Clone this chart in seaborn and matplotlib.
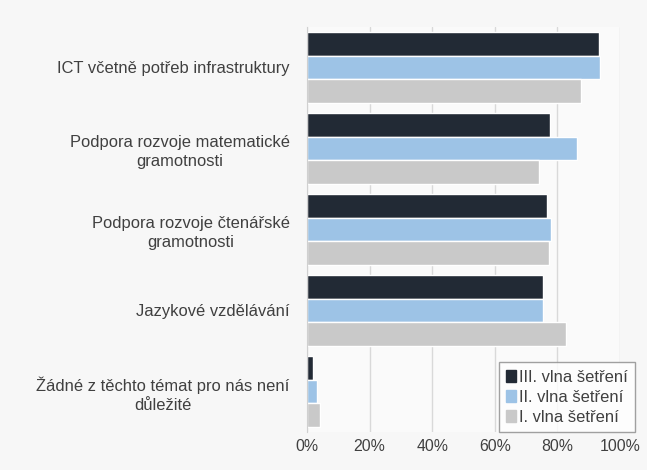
import matplotlib
matplotlib.use("Agg")
import matplotlib.pyplot as plt
import seaborn as sns
import pandas as pd
from matplotlib.ticker import PercentFormatter

# categories and values (share of schools, %)
categories = [
    "ICT včetně potřeb infrastruktury",
    "Podpora rozvoje matematické\ngramotnosti",
    "Podpora rozvoje čtenářské\ngramotnosti",
    "Jazykové vzdělávání",
    "Žádné z těchto témat pro nás není\ndůležité",
]
waves = ["III. vlna šetření", "II. vlna šetření", "I. vlna šetření"]
wave3 = [93.3, 77.6, 76.8, 75.4, 1.9]
wave2 = [93.7, 86.2, 77.8, 75.4, 3.2]
wave1 = [87.4, 74.0, 77.2, 82.6, 4.2]
colors = ["#222a35", "#9dc3e6", "#c9c9c9"]

df = pd.DataFrame({
    "kategorie": categories * 3,
    "vlna": [waves[0]] * 5 + [waves[1]] * 5 + [waves[2]] * 5,
    "hodnota": wave3 + wave2 + wave1,
})

sns.set_style("white")
plt.rcParams["font.family"] = ["Liberation Sans", "DejaVu Sans"]

fig = plt.figure(figsize=(6.47, 4.70), dpi=100, facecolor="#f7f7f7")
ax = fig.add_axes([0.4745, 0.0809, 0.4838, 0.8617])
ax.set_facecolor("#fafafa")

sns.barplot(data=df, y="kategorie", x="hodnota", hue="vlna", order=categories,
            hue_order=waves, palette=colors, orient="h", width=0.87,
            saturation=1, ax=ax, legend=False)

ax.set_xlim(0, 100)
ax.set_xticks([0, 20, 40, 60, 80, 100])
ax.xaxis.set_major_formatter(PercentFormatter(decimals=0))
ax.grid(axis="x", color="#d9d9d9", linewidth=1)
ax.set_axisbelow(True)
for s in ["top", "right", "bottom"]:
    ax.spines[s].set_visible(False)
ax.spines["left"].set_color("#d0d0d0")
ax.set_xlabel("")
ax.set_ylabel("")
ax.tick_params(axis="both", length=0, colors="#404040")
ax.tick_params(axis="y", pad=12.5, labelsize=11.9)
ax.tick_params(axis="x", pad=5, labelsize=11.4)
for lbl in ax.get_yticklabels():
    lbl.set_multialignment("center")
    lbl.set_linespacing(1.35)

handles = [plt.Rectangle((0, 0), 1, 1, color=c) for c in colors]
leg = fig.legend(handles, waves, loc="lower left", bbox_to_anchor=(499 / 647, 1 - 432 / 470),
                 frameon=True, fancybox=False, fontsize=11.9, handlelength=0.55,
                 handleheight=0.75, handletextpad=0.2, labelspacing=0.3,
                 borderpad=0.45, borderaxespad=0)
leg.get_frame().set_edgecolor("#8a8a8a")
leg.get_frame().set_facecolor("white")
for t in leg.get_texts():
    t.set_color("#404040")

fig.savefig("out.png", dpi=100, facecolor=fig.get_facecolor())
